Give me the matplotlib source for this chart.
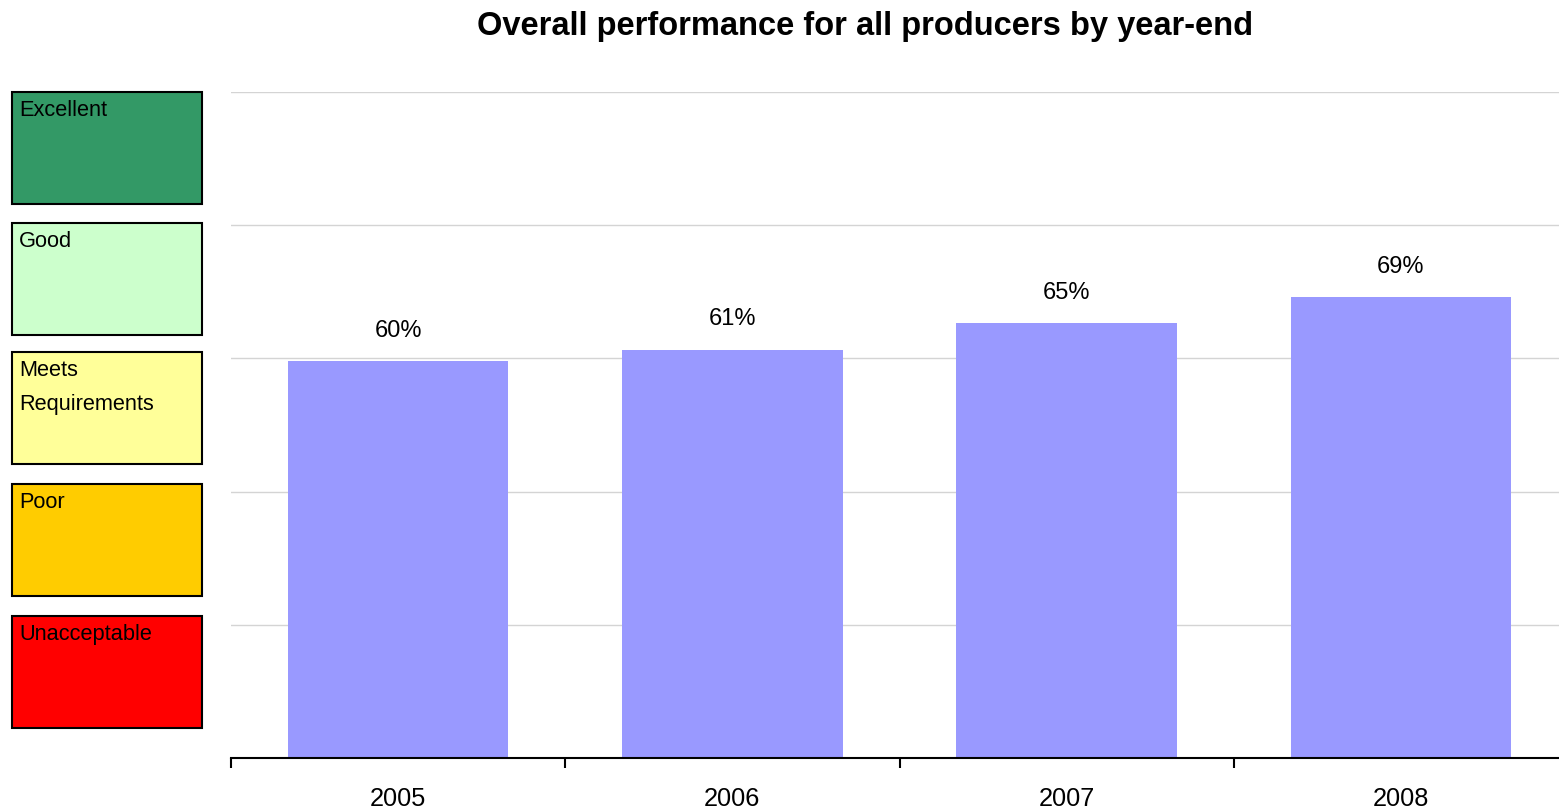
import matplotlib
matplotlib.use("Agg")
import matplotlib.pyplot as plt
from matplotlib.patches import Rectangle

plt.rcParams['font.family'] = ['Liberation Sans', 'DejaVu Sans']

years = ["2005", "2006", "2007", "2008"]
values = [59.6, 61.3, 65.3, 69.2]
labels = ["60%", "61%", "65%", "69%"]
rating_labels = ["Excellent", "Good", "Meets\nRequirements", "Poor", "Unacceptable"]
rating_colors = ["#339966", "#CCFFCC", "#FFFF99", "#FFCC00", "#FF0000"]

W, H = 1559, 812
fig = plt.figure(figsize=(W / 100, H / 100), dpi=100)
ax = fig.add_axes([231 / W, 1 - 759 / H, (1568 - 231) / W, (759 - 93) / H])

x = list(range(len(years)))
ax.bar(x, values, width=0.66, color="#9999FF", zorder=2)
for xi, v, lab in zip(x, values, labels):
    ax.annotate(lab, (xi, v), xytext=(0, 22.5), textcoords="offset points",
                ha="center", va="center", fontsize=17, color="black")

ax.set_xlim(-0.5, len(years) - 0.5)
ax.set_ylim(0, 100)
ax.set_yticks([0, 20, 40, 60, 80, 100])
ax.yaxis.grid(True, color="#d4d4d4", linewidth=1, zorder=0)
ax.set_axisbelow(True)
ax.tick_params(axis="y", left=False, labelleft=False)
for s in ["top", "right", "left"]:
    ax.spines[s].set_visible(False)
ax.spines["bottom"].set_color("black")
ax.spines["bottom"].set_linewidth(1.5)

ax.set_xticks(x)
ax.set_xticklabels(years, fontsize=18.3)
ax.tick_params(axis="x", which="major", length=0, pad=20)
ax.set_xticks([i - 0.5 for i in range(len(years) + 1)], minor=True)
ax.tick_params(axis="x", which="minor", length=7, width=1.5, color="black", direction="out")

fig.text(865 / W, 1 - 26 / H, "Overall performance for all producers by year-end",
         ha="center", va="center", fontsize=23.5, fontweight="bold")

box_tops = [93, 224, 353, 485, 617]
box_h = 112
for top, lab, col in zip(box_tops, rating_labels, rating_colors):
    r = Rectangle((12 / W, 1 - (top + box_h) / H), 190 / W, box_h / H,
                  transform=fig.transFigure, facecolor=col, edgecolor="black",
                  linewidth=1.5)
    fig.patches.append(r)
    fig.text(19 / W, 1 - (top + 7) / H, lab, ha="left", va="top", fontsize=15.7,
             color="black", linespacing=1.8)

fig.savefig("out.png", dpi=100)
